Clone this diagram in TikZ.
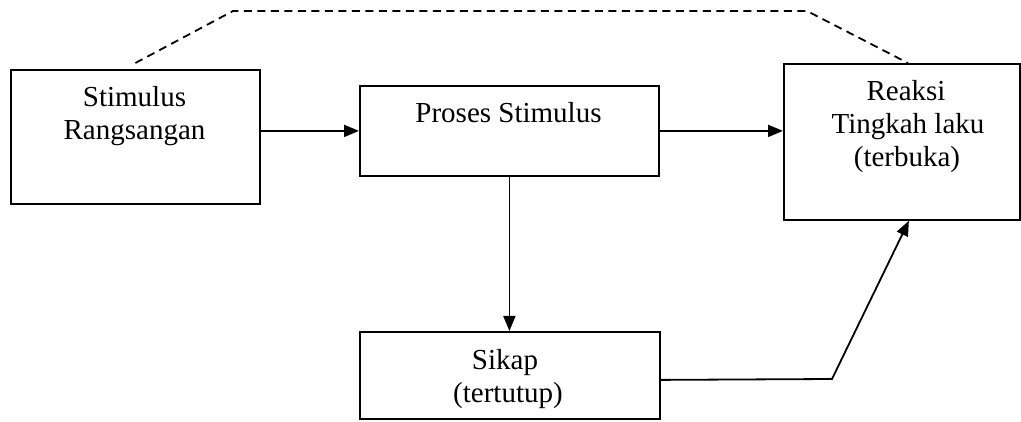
\documentclass[tikz,border=0pt]{standalone}
\usepackage{fontspec}
\setmainfont{Liberation Serif}
\usetikzlibrary{arrows.meta}
\begin{document}
\begin{tikzpicture}[x=1pt,y=-1pt,
  box/.style={draw,line width=1.8pt,anchor=north west,inner sep=0pt},
  txt/.style={anchor=base,inner sep=0pt,font=\fontsize{29}{33}\selectfont},
  arr/.style={line width=1.8pt,-{Triangle[length=15pt,width=12pt]}},
  dashline/.style={line width=1.8pt,dash pattern=on 8pt off 5.5pt}]
\useasboundingbox (0,0) rectangle (1021,422);
\node[box,minimum width=249pt,minimum height=134pt] (b1) at (10,69) {};
\node[box,minimum width=299pt,minimum height=90pt] (b2) at (359,85) {};
\node[box,minimum width=236pt,minimum height=156pt] (b3) at (783,63) {};
\node[box,minimum width=300pt,minimum height=87pt] (b4) at (359,331) {};
\node[txt] (t1a) at (134.5,107) {Stimulus};
\node[txt] (t1b) at (134.5,140) {Rangsangan};
\node[txt] (t2) at (508.5,123) {Proses Stimulus};
\node[txt] (t3a) at (906,101) {Reaksi};
\node[txt] (t3b) at (908,134) {Tingkah laku};
\node[txt] (t3c) at (907,167) {(terbuka)};
\node[txt] (t4a) at (505,370) {Sikap};
\node[txt] (t4b) at (508,402) {(tertutup)};
\coordinate (d1) at (233,11);
\coordinate (d2) at (807,11);
\coordinate (k) at (832,379);
\draw[arr] (b1.east |- b2.west) -- (b2.west);
\draw[arr] (b2.east) -- (b3.west |- b2.east);
\draw[arr] (b2.south) -- (b2.south |- b4.north);
\draw[arr] ([yshift=-4.5pt]b4.east) -- (k) -- ([xshift=7pt]b3.south);
\draw[dashline] ([yshift=6pt]b1.north) -- (d1) -- (d2) -- ([xshift=6pt]b3.north);
\end{tikzpicture}
\end{document}
